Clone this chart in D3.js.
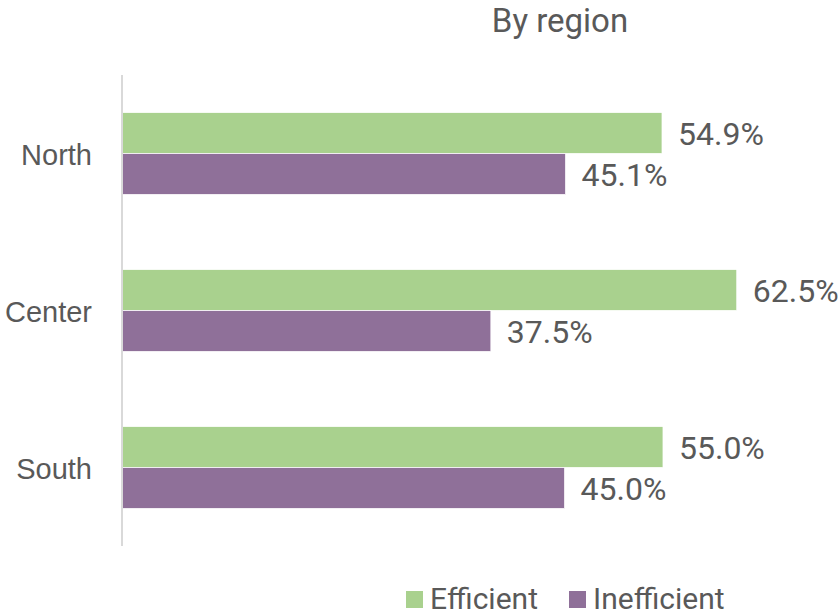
<!DOCTYPE html>
<html><head><meta charset="utf-8">
<script src="https://cdn.jsdelivr.net/npm/d3@7"></script>
<style>body{margin:0;background:#fff}svg{display:block}</style>
</head><body>
<script>
const categories = ["North", "Center", "South"];
const seriesNames = ["Efficient", "Inefficient"];
const efficient = [54.9, 62.5, 55.0];
const inefficient = [45.1, 37.5, 45.0];
const colors = ["#A9D18E", "#8F7099"];
const title = "By region";

const W = 839, H = 614;
const svg = d3.select("body").append("svg").attr("width", W).attr("height", H);
const x = d3.scaleLinear().domain([0, 100]).range([122, 122 + 983.6]);
const y = d3.scaleBand().domain(categories).range([75, 546]).paddingInner(0.478).paddingOuter(0.239);
const sub = d3.scaleBand().domain(seriesNames).range([0, y.bandwidth()]);
const txt = "#595959";
const valFont = "Roboto, 'Liberation Sans', sans-serif";

svg.append("text").attr("x", 560).attr("y", 32).attr("text-anchor", "middle")
  .attr("font-family", valFont).attr("font-size", 33).attr("fill", txt).text(title);

const data = [efficient, inefficient];
seriesNames.forEach((s, si) => {
  const g = svg.append("g");
  g.selectAll("rect").data(categories).join("rect")
    .attr("x", x(0)).attr("y", c => y(c) + sub(s))
    .attr("width", (c, i) => x(data[si][i]) - x(0)).attr("height", sub.bandwidth())
    .attr("fill", colors[si]).attr("stroke", "#fff").attr("stroke-width", 0.75);
  g.selectAll("text").data(categories).join("text")
    .attr("x", (c, i) => x(data[si][i]) + 16)
    .attr("y", c => y(c) + sub(s) + sub.bandwidth() / 2 + 12)
    .attr("font-family", valFont).attr("font-size", 32).attr("fill", txt)
    .text((c, i) => data[si][i].toFixed(1) + "%");
});

const yAxis = svg.append("g").attr("transform", "translate(122,0)")
  .call(d3.axisLeft(y).tickSize(0).tickPadding(30));
yAxis.select(".domain").attr("stroke", "#d9d9d9").attr("stroke-width", 2).attr("d", "M0,75V546");
yAxis.selectAll("text").attr("font-family", "'Liberation Sans', Arial, sans-serif").attr("font-size", 29)
  .attr("fill", txt).attr("dy", null).attr("y", 11);

const leg = svg.append("g");
const legX = [406, 569];
seriesNames.forEach((s, i) => {
  leg.append("rect").attr("x", legX[i]).attr("y", 591).attr("width", 17).attr("height", 17).attr("fill", colors[i]);
  leg.append("text").attr("x", legX[i] + 24).attr("y", 609).attr("font-family", valFont)
    .attr("font-size", 30).attr("fill", txt).text(s);
});
</script>
</body></html>
